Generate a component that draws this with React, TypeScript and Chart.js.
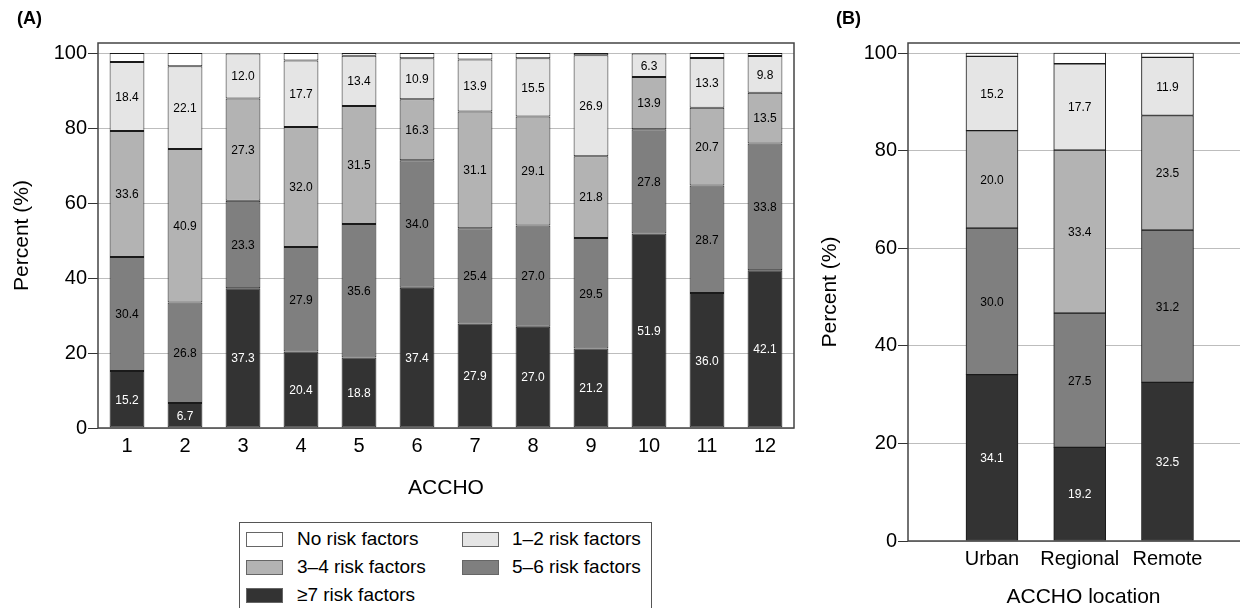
import React, { useEffect, useRef } from "react";
import { Chart, registerables } from "chart.js";
Chart.register(...registerables);

const FONT = '"Liberation Sans", Arial, Helvetica, sans-serif';

const acchoLabels = ["1", "2", "3", "4", "5", "6", "7", "8", "9", "10", "11", "12"];
const locationLabels = ["Urban", "Regional", "Remote"];

// stacked bottom -> top
const seriesNames = ["≥7 risk factors", "5–6 risk factors", "3–4 risk factors", "1–2 risk factors", "No risk factors"];
const seriesColors = ["#333333", "#7f7f7f", "#b3b3b3", "#e5e5e5", "#ffffff"];
const labelColors = ["#ffffff", "#000000", "#000000", "#000000", "#000000"];
const showSegLabels = [true, true, true, true, false];

const aGe7 = [15.2, 6.7, 37.3, 20.4, 18.8, 37.4, 27.9, 27.0, 21.2, 51.9, 36.0, 42.1];
const a56 = [30.4, 26.8, 23.3, 27.9, 35.6, 34.0, 25.4, 27.0, 29.5, 27.8, 28.7, 33.8];
const a34 = [33.6, 40.9, 27.3, 32.0, 31.5, 16.3, 31.1, 29.1, 21.8, 13.9, 20.7, 13.5];
const a12 = [18.4, 22.1, 12.0, 17.7, 13.4, 10.9, 13.9, 15.5, 26.9, 6.3, 13.3, 9.8];
const aNone = [2.4, 3.5, 0.1, 2.0, 0.7, 1.4, 1.7, 1.4, 0.6, 0.1, 1.3, 0.8];

const bGe7 = [34.1, 19.2, 32.5];
const b56 = [30.0, 27.5, 31.2];
const b34 = [20.0, 33.4, 23.5];
const b12 = [15.2, 17.7, 11.9];
const bNone = [0.7, 2.2, 0.9];

const yTicks = [0, 20, 40, 60, 80, 100];

// legend order (row-major, 2 columns)
const legendOrder = [4, 3, 2, 1, 0];

const segLabelsPlugin = {
  id: "segLabels",
  afterDatasetsDraw(chart: any) {
    const ctx = chart.ctx;
    ctx.save();
    ctx.font = `12px ${FONT}`;
    ctx.textAlign = "center";
    ctx.textBaseline = "middle";
    chart.data.datasets.forEach((ds: any, di: number) => {
      if (!ds.showLabels) return;
      const meta = chart.getDatasetMeta(di);
      meta.data.forEach((el: any, i: number) => {
        const { x, y, base } = el.getProps(["x", "y", "base"], true);
        const raw = ds.data[i];
        const v = typeof raw === "number" ? raw : raw.y;
        ctx.fillStyle = ds.labelColor;
        ctx.fillText(v.toFixed(1), x, (y + base) / 2 + 1);
      });
    });
    ctx.restore();
  },
};

const framePlugin = {
  id: "frame",
  afterDraw(chart: any) {
    const { left, top, right, bottom } = chart.chartArea;
    const ctx = chart.ctx;
    ctx.save();
    ctx.strokeStyle = "#444444";
    ctx.lineWidth = 1.5;
    ctx.strokeRect(left, top, right - left, bottom - top);
    ctx.restore();
  },
};

function makeDatasets(values: number[][], toPoint: (v: number, i: number) => any, extra: any) {
  return values.map((vals, k) => ({
    label: seriesNames[k],
    data: vals.map(toPoint),
    backgroundColor: seriesColors[k],
    borderColor: "#1a1a1a",
    borderWidth: 1,
    borderSkipped: false,
    showLabels: showSegLabels[k],
    labelColor: labelColors[k],
    ...extra,
  }));
}

function yScale(max: number, width: number, titlePadTop: number) {
  return {
    stacked: true,
    min: 0,
    max,
    afterBuildTicks: (s: any) => {
      s.ticks = yTicks.map((v) => ({ value: v }));
    },
    grid: { color: "#bdbdbd", tickColor: "#333333", tickLength: 10, lineWidth: 1 },
    border: { display: false },
    ticks: { padding: 1, color: "#000", font: { size: 20, family: FONT } },
    title: {
      display: true,
      text: "Percent (%)",
      color: "#000",
      font: { size: 21, family: FONT, lineHeight: 1 },
      padding: { top: titlePadTop, bottom: 0 },
    },
    afterFit: (s: any) => {
      s.width = width;
    },
  };
}

export default function App() {
  const refA = useRef<HTMLCanvasElement>(null);
  const refB = useRef<HTMLCanvasElement>(null);

  useEffect(() => {
    const chartA = new Chart(refA.current as HTMLCanvasElement, {
      type: "bar",
      data: {
        labels: acchoLabels,
        datasets: makeDatasets([aGe7, a56, a34, a12, aNone], (v) => v, {
          barPercentage: 0.6,
          categoryPercentage: 1.0,
        }) as any,
      },
      options: {
        animation: false,
        responsive: false,
        maintainAspectRatio: false,
        layout: { padding: { top: 43, left: 0, right: 26, bottom: 12 } },
        plugins: { legend: { display: false }, tooltip: { enabled: false } },
        scales: {
          x: {
            stacked: true,
            grid: { display: false },
            border: { display: false },
            ticks: { padding: 0, color: "#000", font: { size: 20, family: FONT, lineHeight: 1 } },
            title: {
              display: true,
              text: "ACCHO",
              color: "#000",
              font: { size: 21, family: FONT, lineHeight: 1 },
              padding: { top: 0, bottom: 9.5 },
            },
            afterFit: (s: any) => {
              s.height = 80;
            },
          } as any,
          y: yScale(102.67, 98, 11.5) as any,
        },
      },
      plugins: [segLabelsPlugin, framePlugin],
    });

    const chartB = new Chart(refB.current as HTMLCanvasElement, {
      type: "bar",
      data: {
        datasets: makeDatasets([bGe7, b56, b34, b12, bNone], (v, i) => ({ x: i + 1, y: v }), {
          barThickness: 52,
        }) as any,
      },
      options: {
        animation: false,
        responsive: false,
        maintainAspectRatio: false,
        layout: { padding: { top: 43, left: 0, right: 1, bottom: 0 } },
        plugins: { legend: { display: false }, tooltip: { enabled: false } },
        scales: {
          x: {
            type: "linear",
            stacked: true,
            offset: false,
            min: 0.043,
            max: 4.043,
            afterBuildTicks: (s: any) => {
              s.ticks = locationLabels.map((_, i) => ({ value: i + 1 }));
            },
            grid: { display: false },
            border: { display: false },
            ticks: {
              padding: 0,
              color: "#000",
              font: { size: 20, family: FONT, lineHeight: 1 },
              callback: (v: any) => locationLabels[Math.round(Number(v)) - 1] ?? "",
            },
            title: {
              display: true,
              text: "ACCHO location",
              color: "#000",
              font: { size: 21, family: FONT, lineHeight: 1 },
              padding: { top: 0, bottom: 0 },
            },
            afterFit: (s: any) => {
              s.height = 67;
            },
          } as any,
          y: yScale(102.05, 88, 0) as any,
        },
      },
      plugins: [segLabelsPlugin, framePlugin],
    });

    return () => {
      chartA.destroy();
      chartB.destroy();
    };
  }, []);

  const legendRows: number[][] = [];
  for (let i = 0; i < legendOrder.length; i += 2) legendRows.push(legendOrder.slice(i, i + 2));

  return (
    <div
      style={{
        position: "fixed",
        left: 0,
        top: 0,
        width: 1240,
        height: 608,
        overflow: "hidden",
        background: "#fff",
        fontFamily: FONT,
      }}
    >
      <canvas
        ref={refA}
        width={820}
        height={520}
        style={{ position: "absolute", left: 0, top: 0, width: 820, height: 520 }}
      />
      <canvas
        ref={refB}
        width={440}
        height={608}
        style={{ position: "absolute", left: 820, top: 0, width: 440, height: 608 }}
      />
      <div style={{ position: "absolute", left: 17, top: 8, fontWeight: "bold", fontSize: 18 }}>(A)</div>
      <div style={{ position: "absolute", left: 836, top: 8, fontWeight: "bold", fontSize: 18 }}>(B)</div>
      <div
        style={{
          position: "absolute",
          left: 239,
          top: 522,
          width: 413,
          height: 110,
          border: "1px solid #555",
          boxSizing: "border-box",
        }}
      >
        {legendRows.map((row, r) => (
          <div key={r} style={{ position: "absolute", left: 0, top: 6 + r * 28, width: "100%", height: 22 }}>
            {row.map((k, c) => (
              <div key={k} style={{ position: "absolute", left: c === 0 ? 6 : 222, top: 0, height: 22 }}>
                <div
                  style={{
                    position: "absolute",
                    left: 0,
                    top: 3,
                    width: 37,
                    height: 15,
                    background: seriesColors[k],
                    border: "1px solid #666",
                    boxSizing: "border-box",
                  }}
                />
                <div
                  style={{
                    position: "absolute",
                    left: c === 0 ? 51 : 50,
                    top: -1,
                    fontSize: 19,
                    lineHeight: "22px",
                    whiteSpace: "nowrap",
                    color: "#000",
                  }}
                >
                  {seriesNames[k]}
                </div>
              </div>
            ))}
          </div>
        ))}
      </div>
    </div>
  );
}
